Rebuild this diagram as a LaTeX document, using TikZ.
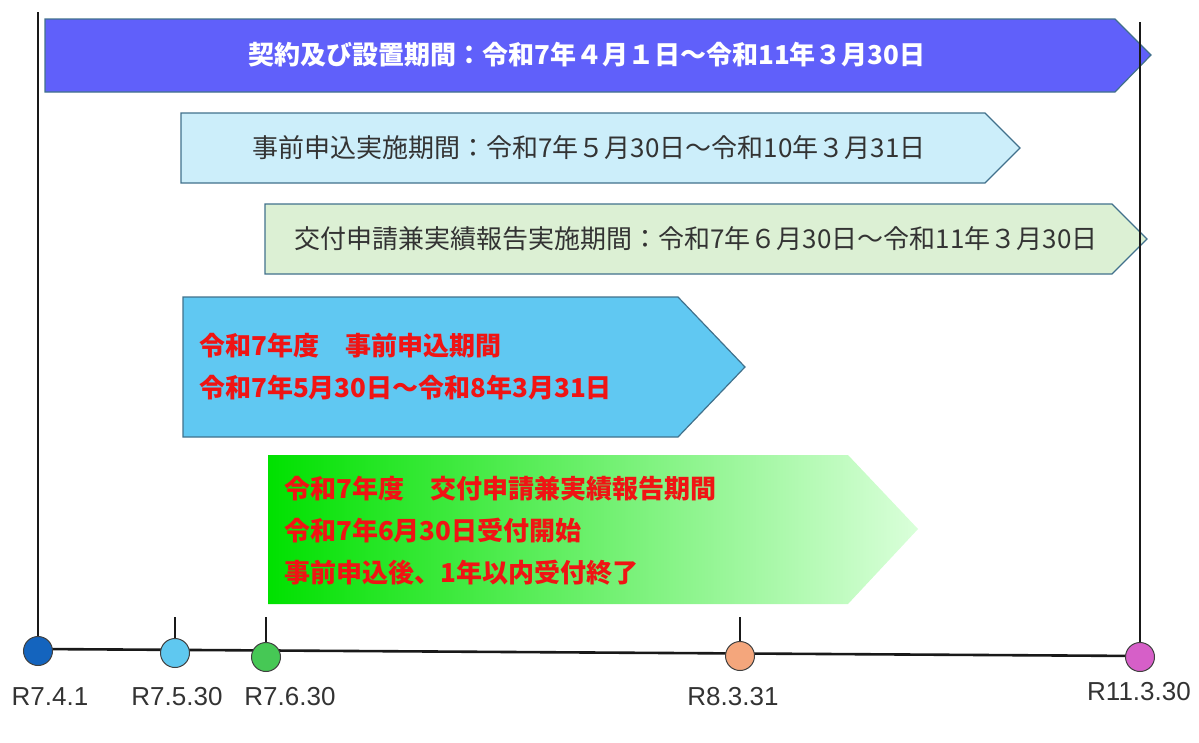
\documentclass[tikz,border=0pt]{standalone}
\usepackage{fontspec}
\setmainfont{Noto Sans CJK JP}
\newfontfamily\datefont{Liberation Sans}
\definecolor{contractblue}{RGB}{96,96,250}
\definecolor{applylight}{RGB}{204,238,250}
\definecolor{grantlight}{RGB}{220,240,212}
\definecolor{applyblue}{RGB}{96,200,242}
\definecolor{grantgreen}{RGB}{0,225,0}
\definecolor{grantmid}{RGB}{175,255,175}
\definecolor{grantpale}{RGB}{218,255,218}
\definecolor{barline}{RGB}{65,113,140}
\definecolor{notered}{RGB}{240,20,20}
\definecolor{textgray}{RGB}{51,51,51}
\definecolor{dotone}{RGB}{20,100,190}
\definecolor{dottwo}{RGB}{95,200,240}
\definecolor{dotthree}{RGB}{70,200,85}
\definecolor{dotfour}{RGB}{244,166,124}
\definecolor{dotfive}{RGB}{214,95,200}

\begin{document}
\begin{tikzpicture}[x=1pt, y=-1pt,
  periodbar/.style={draw=barline, line width=1.2pt},
  bartext/.style={font=\fontsize{26}{30}\selectfont, inner sep=0pt},
  notetext/.style={font=\fontsize{26}{42}\selectfont\bfseries, text=notered, align=left, anchor=west, inner sep=0pt},
  datedot/.style={circle, draw=black!75, line width=1pt, minimum size=29pt, inner sep=0pt},
  datelabel/.style={font=\datefont\fontsize{26}{30}\selectfont, text=textgray, inner sep=0pt},
  timeline/.style={line width=2.6pt, black!90}]
  \useasboundingbox (0,0) rectangle (1199,742);

  % period bars
  \draw[periodbar, fill=contractblue] (45,19) -- (1115,19) -- (1151,55) -- (1115,92) -- (45,92) -- cycle;
  \draw[periodbar, fill=applylight] (181,113) -- (985,113) -- (1020,148) -- (985,183) -- (181,183) -- cycle;
  \draw[periodbar, fill=grantlight] (265,204) -- (1112,204) -- (1147,239) -- (1112,274) -- (265,274) -- cycle;
  \draw[periodbar, fill=applyblue] (183,297) -- (678,297) -- (745,367) -- (678,437) -- (183,437) -- cycle;
  \shade[left color=grantgreen, middle color=grantmid, right color=grantpale] (268,455) -- (848,455) -- (918,529) -- (848,604) -- (268,604) -- cycle;

  \node[bartext, text=white, font=\fontsize{26}{30}\selectfont\bfseries] (contract) at (587,55) {契約及び設置期間：令和7年４月１日～令和11年３月30日};
  \node[bartext, text=textgray] (apply) at (589,148) {事前申込実施期間：令和7年５月30日～令和10年３月31日};
  \node[bartext, text=textgray] (grant) at (696,239) {交付申請兼実績報告実施期間：令和7年６月30日～令和11年３月30日};
  \node[notetext] (applynote) at (199,367) {令和7年度　事前申込期間\\令和7年5月30日～令和8年3月31日};
  \node[notetext] (grantnote) at (284,531) {令和7年度　交付申請兼実績報告期間\\令和7年6月30日受付開始\\事前申込後、1年以内受付終了};

  % time line
  \coordinate (c1) at (38,651);
  \coordinate (c2) at (175,653);
  \coordinate (c3) at (266,657);
  \coordinate (c4) at (740,656);
  \coordinate (c5) at (1140,657);
  \coordinate (topleft) at (38,12);
  \coordinate (topright) at (1140,22);
  \coordinate (tick2) at (175,617);
  \coordinate (tick3) at (266,617);
  \coordinate (tick4) at (740,617);
  \draw[timeline] ([yshift=2pt]c1) -- ([yshift=1pt]c5);
  \draw[timeline] (topleft) -- (c1);
  \draw[timeline] (topright) -- (c5);
  \draw[timeline] (tick2) -- (c2);
  \draw[timeline] (tick3) -- (c3);
  \draw[timeline] (tick4) -- (c4);

  \node[datedot, fill=dotone] (d1) at (c1) {};
  \node[datedot, fill=dottwo] (d2) at (c2) {};
  \node[datedot, fill=dotthree] (d3) at (c3) {};
  \node[datedot, fill=dotfour] (d4) at (c4) {};
  \node[datedot, fill=dotfive] (d5) at (c5) {};

  \node[datelabel] (l1) at (50,697) {R7.4.1};
  \node[datelabel] (l2) at (177,697) {R7.5.30};
  \node[datelabel] (l3) at (290,697) {R7.6.30};
  \node[datelabel] (l4) at (733,697) {R8.3.31};
  \node[datelabel] (l5) at (1139,692) {R11.3.30};
\end{tikzpicture}
\end{document}
